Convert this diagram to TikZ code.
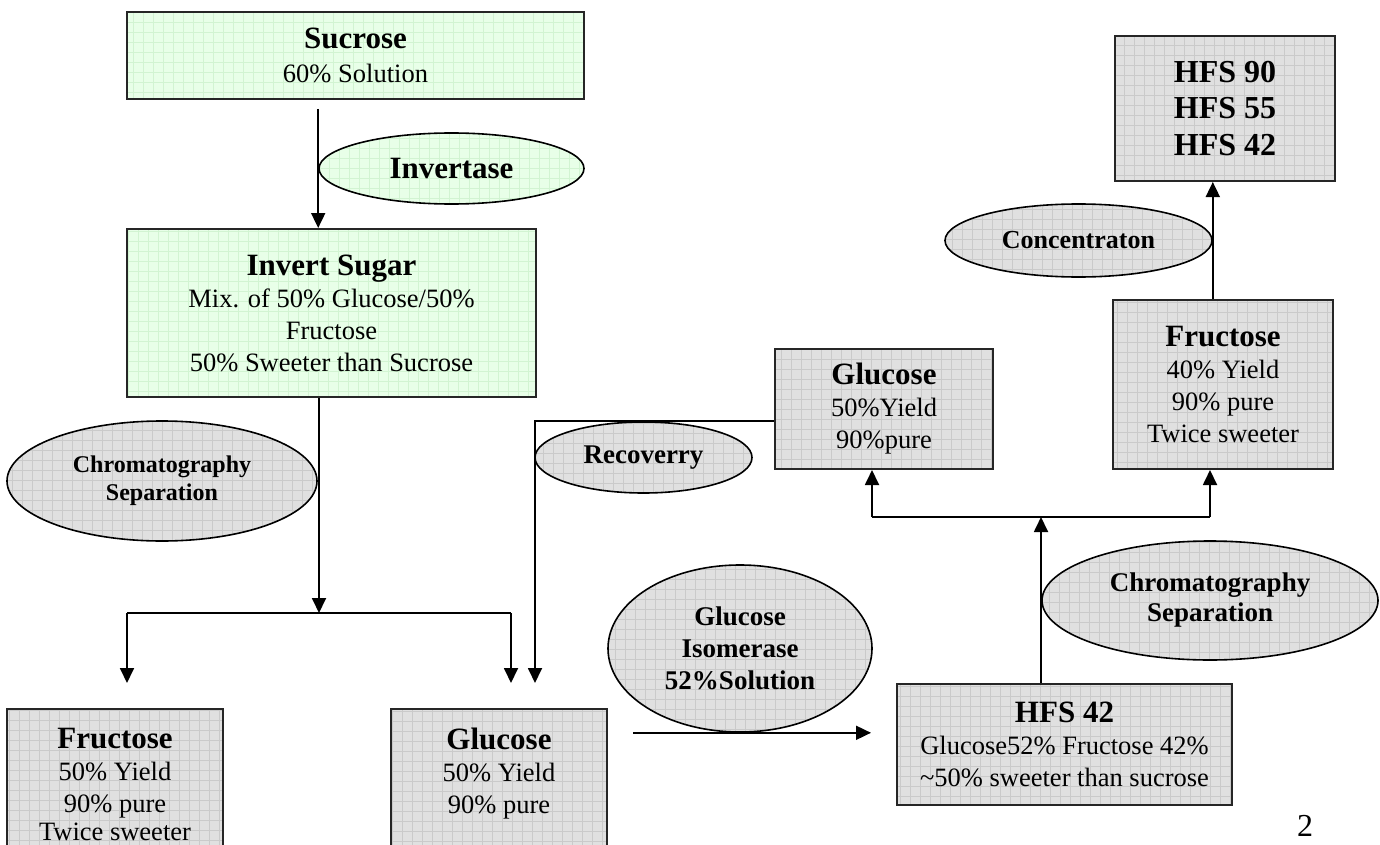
\documentclass[tikz,border=0pt]{standalone}
\usepackage{fontspec}
\setmainfont{Liberation Serif}
\usetikzlibrary{arrows.meta,shapes.geometric,positioning,calc}

\definecolor{greenfill}{RGB}{232,255,232}
\definecolor{greengrid}{RGB}{210,244,210}
\definecolor{grayfill}{RGB}{224,224,224}
\definecolor{graygrid}{RGB}{202,202,202}

\newcommand{\boxtitle}[1]{{\fontsize{31}{32}\selectfont\bfseries #1}}

\begin{document}
\begin{tikzpicture}[
    x=1pt, y=-1pt,
    gridfill/.style={path picture={\draw[#1, line width=0.8pt, step=10pt]
        (path picture bounding box.south west) grid (path picture bounding box.north east);}},
    gbox/.style={draw=black!85, line width=2pt, fill=greenfill, gridfill=greengrid, align=center, inner sep=0pt,
        font=\fontsize{26.5}{32}\selectfont},
    sbox/.style={draw=black!85, line width=2pt, fill=grayfill, gridfill=graygrid, align=center, inner sep=0pt,
        font=\fontsize{26.5}{32}\selectfont},
    gell/.style={ellipse, draw=black, line width=1.6pt, fill=greenfill, gridfill=greengrid, align=center, inner sep=0pt,
        font=\fontsize{31}{32}\selectfont\bfseries},
    sell/.style={ellipse, draw=black, line width=1.6pt, fill=grayfill, gridfill=graygrid, align=center, inner sep=0pt,
        font=\fontsize{27}{31}\selectfont\bfseries},
    arr/.style={-{Triangle[length=15pt,width=14pt]}, line width=1.8pt},
    conn/.style={line width=1.8pt}
]
\useasboundingbox (0,0) rectangle (1380,845);

% boxes
\node[gbox, minimum width=457pt, minimum height=87pt] (sucrose) at (355.5,55.5) {\boxtitle{Sucrose}\\[2pt]60\% Solution};
\node[gbox, minimum width=409pt, minimum height=168pt] (invert) at (331.5,313) {\boxtitle{Invert Sugar}\\Mix. of 50\% Glucose/50\%\\Fructose\\50\% Sweeter than Sucrose};
\node[sbox, minimum width=216pt, minimum height=151pt] (fructA) at (115,784.5) {\boxtitle{Fructose}\\50\% Yield\\90\% pure\\[-4pt]Twice sweeter};
\node[sbox, minimum width=216pt, minimum height=151pt] (glucA) at (499,784.5) {\boxtitle{Glucose}\\50\% Yield\\90\% pure\\[-4pt]\mbox{}};
\node[sbox, minimum width=218pt, minimum height=120pt] (glucB) at (884,409) {\boxtitle{Glucose}\\50\%Yield\\90\%pure};
\node[sbox, minimum width=220pt, minimum height=169pt] (fructB) at (1223,384.5) {\boxtitle{Fructose}\\40\% Yield\\90\% pure\\Twice sweeter};
\node[sbox, minimum width=220pt, minimum height=145pt, font=\fontsize{32}{36.5}\selectfont\bfseries] (hfsTop) at (1225,108.5) {HFS 90\\HFS 55\\HFS 42};
\node[sbox, minimum width=335pt, minimum height=121pt] (hfs42) at (1064.5,744.5) {\boxtitle{HFS 42}\\Glucose52\% Fructose 42\%\\\textasciitilde50\% sweeter than sucrose};

% process ellipses
\node[gell, minimum width=265pt, minimum height=71pt] (invertase) at (451.5,168.5) {Invertase};
\node[sell, minimum width=310pt, minimum height=120pt, font=\fontsize{24}{28}\selectfont\bfseries] (chromA) at (162,481) {Chromatography\\Separation};
\node[sell, minimum width=267pt, minimum height=73pt, font=\fontsize{26}{30}\selectfont\bfseries] (concentr) at (1078.5,240.5) {Concentraton};
\node[sell, minimum width=217pt, minimum height=71pt] (recovery) at (643.5,457.5) {Recoverry};
\node[sell, minimum width=264pt, minimum height=167pt, font=\fontsize{27}{32}\selectfont\bfseries] (isomerase) at (740,648.5) {Glucose\\Isomerase\\52\%Solution};
\node[sell, minimum width=336pt, minimum height=119pt, font=\fontsize{27}{30}\selectfont\bfseries] (chromB) at (1210,600.5) {Chromatography\\Separation};

\node[font=\fontsize{32}{34}\selectfont, inner sep=0pt] (page) at (1305,826) {2};

% split points
\coordinate (sepA) at (319,613);
\coordinate (sepAl) at (127,613);
\coordinate (sepAr) at (511,613);
\coordinate (inFructA) at (127,683);
\coordinate (inGlucA) at (511,683);
\coordinate (recA) at (535,421);
\coordinate (recB) at (535,683);
\coordinate (sepB) at (1041,517);
\coordinate (sepBl) at (872,517);
\coordinate (sepBr) at (1210,517);

% connectors
\draw[arr] ([yshift=-9pt]sucrose.south -| invertase.west) -- (invert.north -| invertase.west);
\draw[arr] (invert.south -| sepA) -- (sepA);
\draw[conn] (sepAl) -- (sepAr);
\draw[arr] (sepAl) -- (inFructA);
\draw[arr] (sepAr) -- (inGlucA);
\draw[arr] (glucB.west |- recA) -- (recA) -- (recB);
\draw[arr] ([xshift=25pt]glucA.east |- isomerase.south) -- ([xshift=-25pt]hfs42.west |- isomerase.south);
\draw[arr] (hfs42.north -| sepB) -- (sepB);
\draw[conn] (sepBl) -- (sepBr);
\draw[arr] (sepBl) -- (glucB.south -| sepBl);
\draw[arr] (sepBr) -- (fructB.south -| sepBr);
\draw[arr] (fructB.north -| concentr.east) -- (hfsTop.south -| concentr.east);
\end{tikzpicture}
\end{document}
